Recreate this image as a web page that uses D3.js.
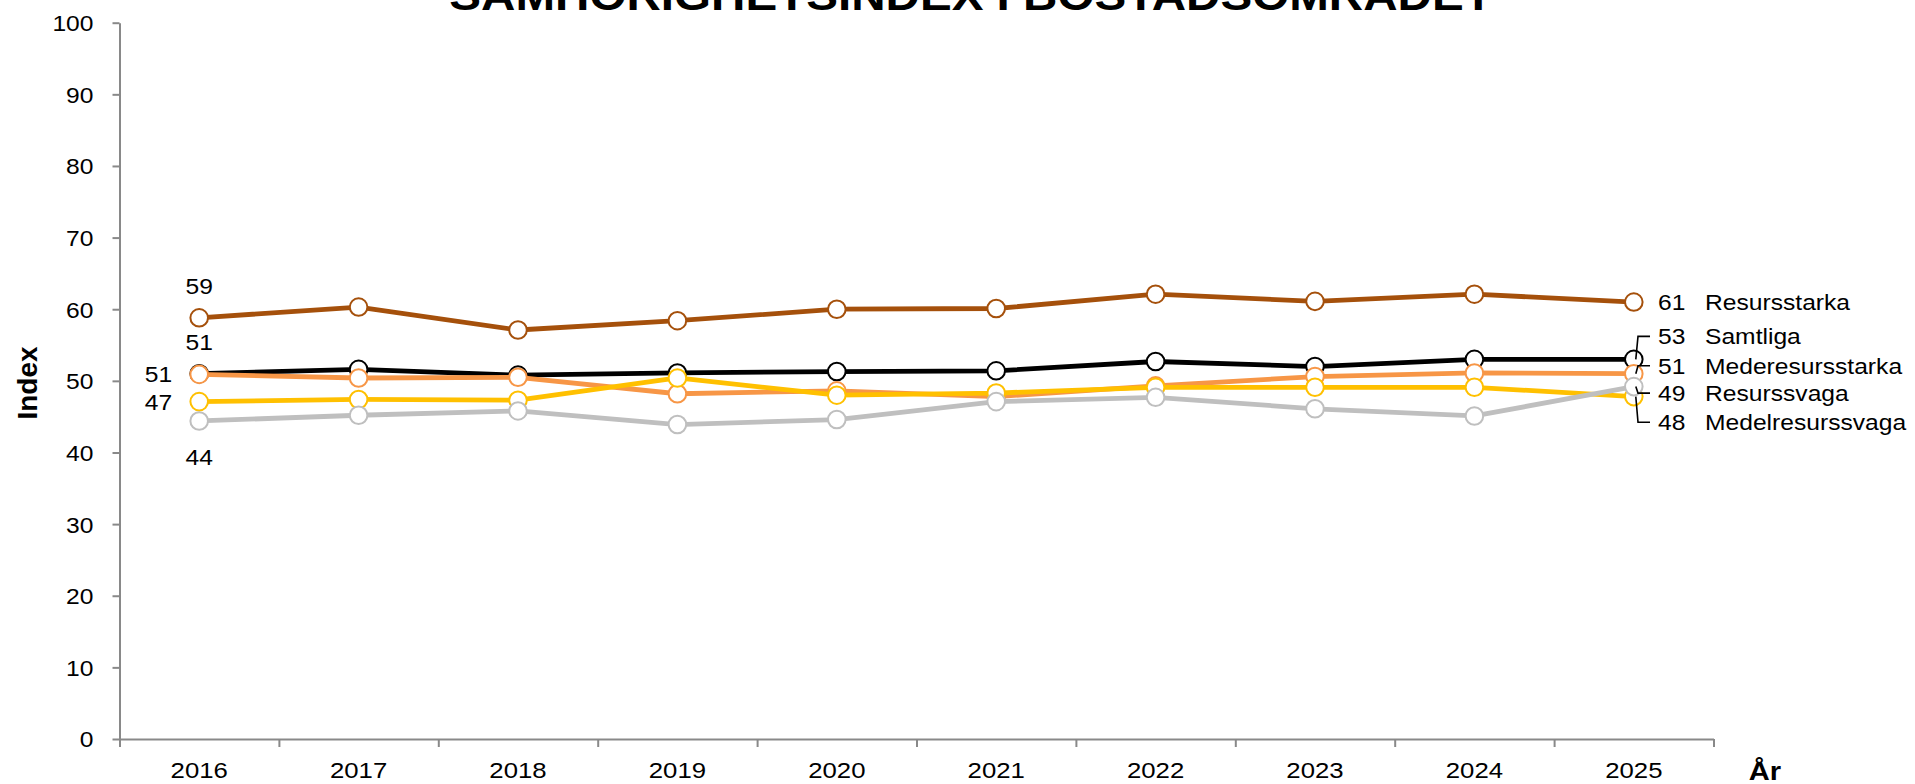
<!DOCTYPE html>
<html>
<head>
<meta charset="utf-8">
<script src="https://cdn.jsdelivr.net/npm/d3@7"></script>
<style>
  html, body { margin: 0; padding: 0; background: #fff; overflow: hidden; }
  svg { display: block; }
  text { font-family: Arial, "Liberation Sans", sans-serif; fill: #000; }
</style>
</head>
<body>
<svg id="chart" width="1915" height="784"></svg>
<script>
// ---- data ----
const years = [2016, 2017, 2018, 2019, 2020, 2021, 2022, 2023, 2024, 2025];
const samtliga         = [51.0, 51.6, 50.8, 51.1, 51.3, 51.4, 52.7, 52.0, 53.0, 53.0];
const resursstarka     = [58.8, 60.3, 57.1, 58.4, 60.0, 60.1, 62.1, 61.1, 62.1, 61.0];
const mederesursstarka = [50.9, 50.4, 50.5, 48.2, 48.6, 47.8, 49.3, 50.6, 51.1, 51.0];
const medelresurssvaga = [47.1, 47.4, 47.3, 50.4, 48.0, 48.3, 49.1, 49.1, 49.1, 47.8];
const resurssvaga      = [44.4, 45.2, 45.8, 43.9, 44.6, 47.1, 47.7, 46.1, 45.1, 49.2];

const seriesNames  = ["Samtliga", "Resursstarka", "Mederesursstarka", "Medelresurssvaga", "Resurssvaga"];
const seriesValues = [samtliga, resursstarka, mederesursstarka, medelresurssvaga, resurssvaga];
const seriesColors = ["#000000", "#A5500B", "#F79646", "#FFC000", "#BFBFBF"];

const yTicks = [0, 10, 20, 30, 40, 50, 60, 70, 80, 90, 100];
const chartTitle = "SAMHÖRIGHETSINDEX I BOSTADSOMRÅDET";
const xAxisTitle = "År";
const yAxisTitle = "Index";

// ---- label layout ----
// where each series' first-year value label sits relative to its marker
const firstLabelSide = ["above", "above", "left", "left", "below"];
// vertical shift of each end label from its marker (leader drawn when shifted)
const endLabelShift = [-23, 0, -8, 25.6, 6.5];

// ---- layout ----
const SX = 1.12;              // horizontal text widening
const axisColor = "#898989";
const fontFamily = "Arial, 'Liberation Sans', sans-serif";
const plot = { left: 119.5, right: 1713.5, top: 22.7, bottom: 739 };

const svg = d3.select("#chart");

const x = d3.scaleBand().domain(years).range([plot.left, plot.right]);
const xEdge = d3.scaleLinear().domain([0, years.length]).range([plot.left, plot.right]);
const y = d3.scaleLinear().domain([0, 100]).range([plot.bottom, plot.top]);
const cx = yr => x(yr) + x.bandwidth() / 2;

const series = seriesNames.map((name, i) => ({
  name, values: seriesValues[i], color: seriesColors[i],
  side: firstLabelSide[i], shift: endLabelShift[i]
}));

const fmt = v => String(Math.round(v));

// ---- y axis ----
const gy = svg.append("g")
  .attr("transform", `translate(${plot.left},0)`)
  .attr("color", axisColor)
  .call(d3.axisLeft(y).tickValues(yTicks).tickSize(7).tickSizeOuter(0))
  .attr("font-family", fontFamily)
  .attr("font-size", 22);
gy.select(".domain").attr("stroke-width", 2);
gy.selectAll(".tick line").attr("stroke-width", 2);
gy.selectAll(".tick text")
  .attr("fill", "#000")
  .attr("x", -26 / SX)
  .attr("dy", "0.36em")
  .attr("transform", `scale(${SX},1)`);

// ---- x axis (tick marks between categories) ----
const gx = svg.append("g")
  .attr("transform", `translate(0,${plot.bottom})`)
  .attr("color", axisColor)
  .call(d3.axisBottom(xEdge).tickValues(d3.range(years.length + 1)).tickSize(8).tickSizeOuter(0).tickFormat(""));
gx.select(".domain").attr("stroke-width", 2);
gx.selectAll(".tick line").attr("stroke-width", 2);

const gxl = svg.append("g")
  .attr("transform", `translate(0,${plot.bottom})`)
  .call(d3.axisBottom(x).tickSize(0).tickPadding(0))
  .attr("font-family", fontFamily)
  .attr("font-size", 23);
gxl.select(".domain").remove();
gxl.selectAll(".tick text")
  .attr("fill", "#000")
  .attr("y", 39)
  .attr("dy", "0")
  .attr("transform", `scale(${SX},1)`);

// ---- titles ----
svg.append("text")
  .attr("transform", `translate(971,9.5) scale(${SX},1)`)
  .attr("text-anchor", "middle")
  .attr("font-size", 42.5)
  .attr("font-weight", "bold")
  .text(chartTitle);

svg.append("text")
  .attr("transform", `translate(36.5,383) rotate(-90)`)
  .attr("text-anchor", "middle")
  .attr("font-size", 28)
  .attr("font-weight", "bold")
  .text(yAxisTitle);

svg.append("text")
  .attr("transform", `translate(1765,780) scale(${SX},1)`)
  .attr("text-anchor", "middle")
  .attr("font-size", 26)
  .attr("font-weight", "bold")
  .text(xAxisTitle);

// ---- lines and markers ----
const line = d3.line().x((d, i) => cx(years[i])).y(d => y(d));

series.forEach(s => {
  const g = svg.append("g");
  g.append("path")
    .attr("d", line(s.values))
    .attr("fill", "none")
    .attr("stroke", s.color)
    .attr("stroke-width", 4.8)
    .attr("stroke-linejoin", "round");
  g.selectAll("circle")
    .data(s.values)
    .join("circle")
    .attr("cx", (d, i) => cx(years[i]))
    .attr("cy", d => y(d))
    .attr("r", 8.8)
    .attr("fill", "#fff")
    .attr("stroke", s.color)
    .attr("stroke-width", 2);
});

// ---- value labels at the first year ----
const labelSize = 22;
series.forEach(s => {
  const v = s.values[0];
  const px = cx(years[0]), py = y(v);
  let tx = px, ty = py, anchor = "middle";
  if (s.side === "above") { ty = py - 24; }
  else if (s.side === "below") { ty = py + 44; }
  else if (s.side === "left") { tx = px - 27; ty = py + 8; anchor = "end"; }
  svg.append("text")
    .attr("transform", `translate(${tx},${ty}) scale(${SX},1)`)
    .attr("text-anchor", anchor)
    .attr("font-size", labelSize)
    .text(fmt(v));
});

// ---- end labels with series names ----
const last = years.length - 1;
series.forEach(s => {
  const v = s.values[last];
  const px = cx(years[last]), py = y(v);
  const ly = py + s.shift;
  if (s.shift !== 0) {
    svg.append("path")
      .attr("d", `M1650,${ly}H1638L${px + 2},${py}`)
      .attr("fill", "none")
      .attr("stroke", "#000")
      .attr("stroke-width", 1.6);
  }
  svg.append("text")
    .attr("transform", `translate(1658,${ly + 8}) scale(${SX},1)`)
    .attr("font-size", labelSize)
    .text(fmt(v));
  svg.append("text")
    .attr("transform", `translate(1705,${ly + 8}) scale(${SX},1)`)
    .attr("font-size", labelSize)
    .text(s.name);
});
</script>
</body>
</html>
